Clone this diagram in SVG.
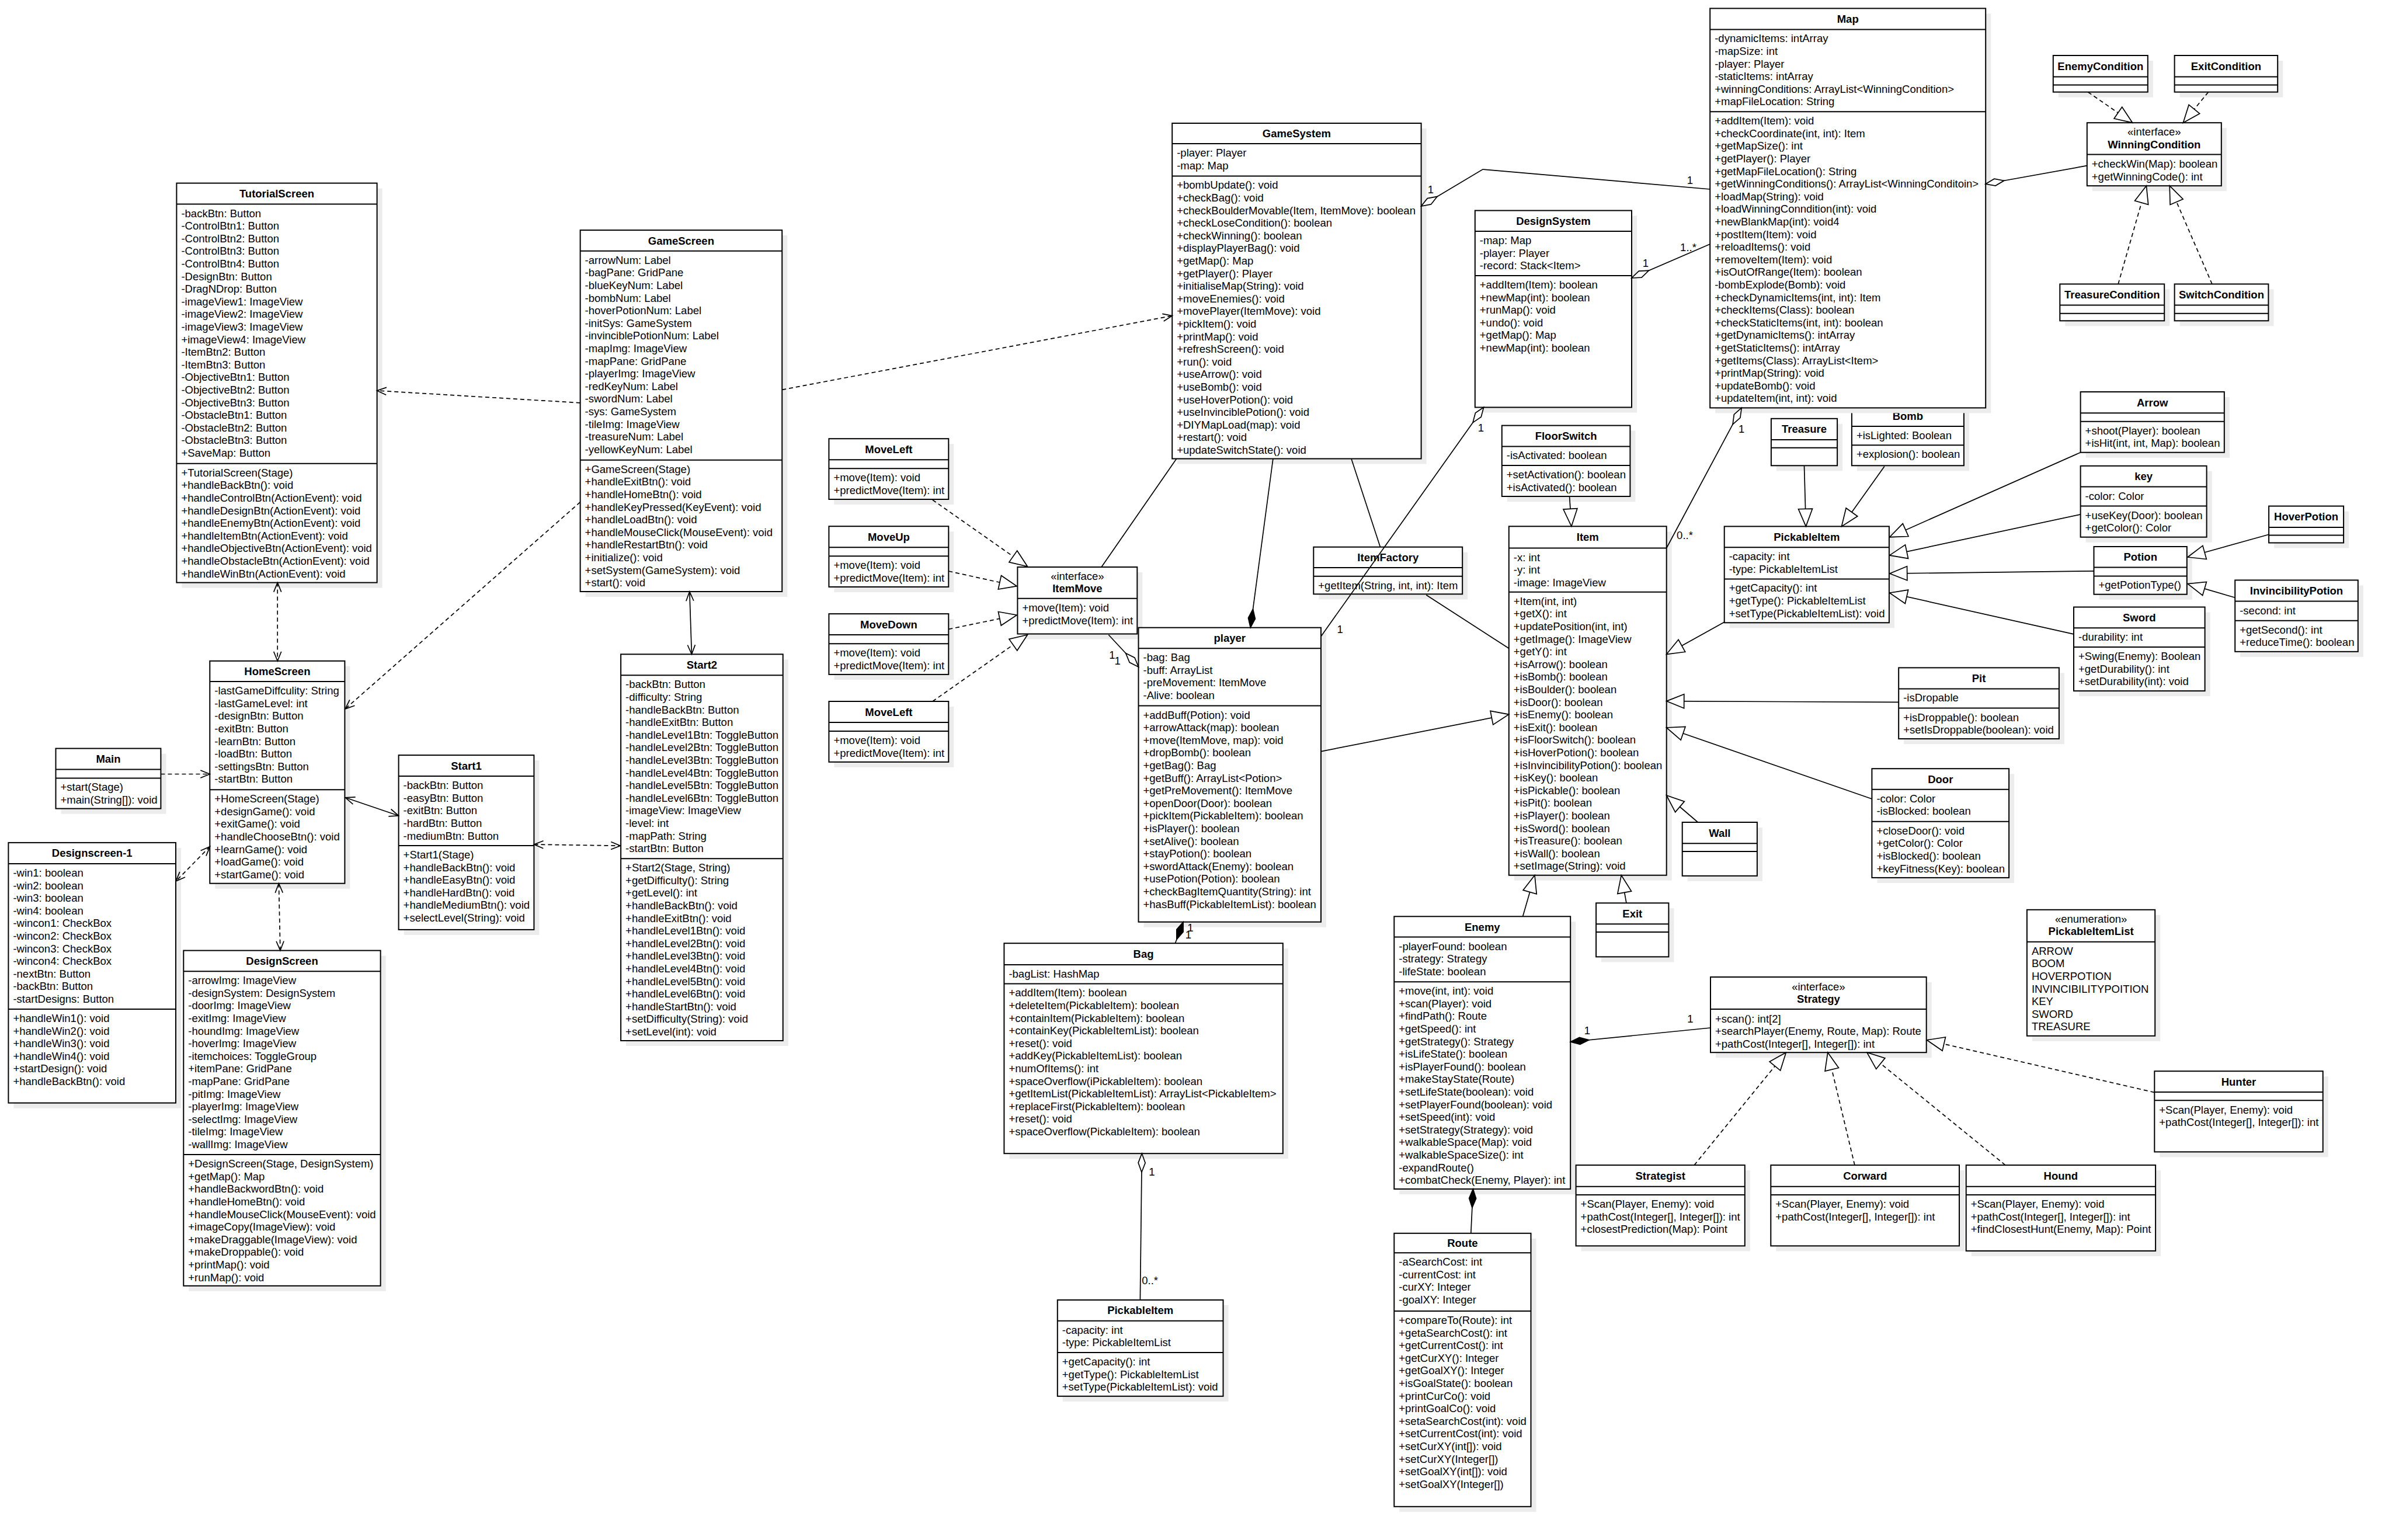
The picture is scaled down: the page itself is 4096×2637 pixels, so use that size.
<svg xmlns="http://www.w3.org/2000/svg" width="4096" height="2637" viewBox="0 0 4096 2637">
<defs>
<style>
.sh{fill:#ececec}
.bx{fill:#fff;stroke:#000;stroke-width:2}
.sp{stroke:#000;stroke-width:2;fill:none}
text{font-family:"Liberation Sans",Arial,Helvetica,sans-serif;font-size:18.5px;fill:#000}
.b{font-weight:bold}
.m{text-anchor:middle}
.c{fill:none;stroke:#000;stroke-width:1.7}
.d{stroke-dasharray:7,5}
.oa{marker-end:url(#oa)}
.oa2{marker-start:url(#oa);marker-end:url(#oa)}
.tr{marker-end:url(#tri)}
.dh{marker-start:url(#dh)}
.df{marker-start:url(#df)}
</style>
<marker id="oa" viewBox="0 0 20 16" refX="18" refY="8" markerWidth="20" markerHeight="16" markerUnits="userSpaceOnUse" orient="auto-start-reverse"><path d="M2,1.5 L18,8 L2,14.5" fill="none" stroke="#000" stroke-width="1.7"/></marker>
<marker id="tri" viewBox="0 0 34 28" refX="32" refY="14" markerWidth="34" markerHeight="28" markerUnits="userSpaceOnUse" orient="auto"><path d="M2,2 L32,14 L2,26 Z" fill="#fff" stroke="#000" stroke-width="1.7"/></marker>
<marker id="dh" viewBox="0 0 36 16" refX="2" refY="8" markerWidth="36" markerHeight="16" markerUnits="userSpaceOnUse" orient="auto"><path d="M2,8 L18,2 L34,8 L18,14 Z" fill="#fff" stroke="#000" stroke-width="1.7"/></marker>
<marker id="df" viewBox="0 0 36 16" refX="2" refY="8" markerWidth="36" markerHeight="16" markerUnits="userSpaceOnUse" orient="auto"><path d="M2,8 L18,2 L34,8 L18,14 Z" fill="#000" stroke="#000" stroke-width="1.7"/></marker>
</defs>
<rect x="0" y="0" width="4096" height="2637" fill="#fff"/>

<g id="TutorialScreen">
<rect class="sh" x="311.4" y="322.6" width="343.2" height="684"/>
<rect class="bx" x="302.4" y="313.6" width="343.2" height="684"/>
<path class="sp" d="M302.4,349.6h343.2M302.4,793.8h343.2"/>
<text class="b m" x="474" y="338.1">TutorialScreen</text>
<text x="310.4" y="371.6">-backBtn: Button<tspan x="310.4" dy="21.6">-ControlBtn1: Button</tspan><tspan x="310.4" dy="21.6">-ControlBtn2: Button</tspan><tspan x="310.4" dy="21.6">-ControlBtn3: Button</tspan><tspan x="310.4" dy="21.6">-ControlBtn4: Button</tspan><tspan x="310.4" dy="21.6">-DesignBtn: Button</tspan><tspan x="310.4" dy="21.6">-DragNDrop: Button</tspan><tspan x="310.4" dy="21.6">-imageView1: ImageView</tspan><tspan x="310.4" dy="21.6">-imageView2: ImageView</tspan><tspan x="310.4" dy="21.6">-imageView3: ImageView</tspan><tspan x="310.4" dy="21.6">+imageView4: ImageView</tspan><tspan x="310.4" dy="21.6">-ItemBtn2: Button</tspan><tspan x="310.4" dy="21.6">-ItemBtn3: Button</tspan><tspan x="310.4" dy="21.6">-ObjectiveBtn1: Button</tspan><tspan x="310.4" dy="21.6">-ObjectiveBtn2: Button</tspan><tspan x="310.4" dy="21.6">-ObjectiveBtn3: Button</tspan><tspan x="310.4" dy="21.6">-ObstacleBtn1: Button</tspan><tspan x="310.4" dy="21.6">-ObstacleBtn2: Button</tspan><tspan x="310.4" dy="21.6">-ObstacleBtn3: Button</tspan><tspan x="310.4" dy="21.6">+SaveMap: Button</tspan></text>
<text x="310.4" y="815.8">+TutorialScreen(Stage)<tspan x="310.4" dy="21.6">+handleBackBtn(): void</tspan><tspan x="310.4" dy="21.6">+handleControlBtn(ActionEvent): void</tspan><tspan x="310.4" dy="21.6">+handleDesignBtn(ActionEvent): void</tspan><tspan x="310.4" dy="21.6">+handleEnemyBtn(ActionEvent): void</tspan><tspan x="310.4" dy="21.6">+handleItemBtn(ActionEvent): void</tspan><tspan x="310.4" dy="21.6">+handleObjectiveBtn(ActionEvent): void</tspan><tspan x="310.4" dy="21.6">+handleObstacleBtn(ActionEvent): void</tspan><tspan x="310.4" dy="21.6">+handleWinBtn(ActionEvent): void</tspan></text>
</g>

<g id="HomeScreen">
<rect class="sh" x="368.3" y="1140.8" width="231.1" height="380.9"/>
<rect class="bx" x="359.3" y="1131.8" width="231.1" height="380.9"/>
<path class="sp" d="M359.3,1167.1h231.1M359.3,1352.2h231.1"/>
<text class="b m" x="474.9" y="1156">HomeScreen</text>
<text x="367.3" y="1189.1">-lastGameDiffculity: String<tspan x="367.3" dy="21.6">-lastGameLevel: int</tspan><tspan x="367.3" dy="21.6">-designBtn: Button</tspan><tspan x="367.3" dy="21.6">-exitBtn: Button</tspan><tspan x="367.3" dy="21.6">-learnBtn: Button</tspan><tspan x="367.3" dy="21.6">-loadBtn: Button</tspan><tspan x="367.3" dy="21.6">-settingsBtn: Button</tspan><tspan x="367.3" dy="21.6">-startBtn: Button</tspan></text>
<text x="367.3" y="1374.2">+HomeScreen(Stage)<tspan x="367.3" dy="21.6">+designGame(): void</tspan><tspan x="367.3" dy="21.6">+exitGame(): void</tspan><tspan x="367.3" dy="21.6">+handleChooseBtn(): void</tspan><tspan x="367.3" dy="21.6">+learnGame(): void</tspan><tspan x="367.3" dy="21.6">+loadGame(): void</tspan><tspan x="367.3" dy="21.6">+startGame(): void</tspan></text>
</g>

<g id="Main">
<rect class="sh" x="104.5" y="1290.6" width="179.9" height="103"/>
<rect class="bx" x="95.5" y="1281.6" width="179.9" height="103"/>
<path class="sp" d="M95.5,1317.6h179.9M95.5,1332.4h179.9"/>
<text class="b m" x="185.5" y="1306.1">Main</text>
<text x="103.5" y="1354.4">+start(Stage)<tspan x="103.5" dy="21.6">+main(String[]): void</tspan></text>
</g>

<g id="Designscreen-1">
<rect class="sh" x="23.4" y="1451.9" width="286.6" height="445.7"/>
<rect class="bx" x="14.4" y="1442.9" width="286.6" height="445.7"/>
<path class="sp" d="M14.4,1478.9h286.6M14.4,1728h286.6"/>
<text class="b m" x="157.7" y="1467.4">Designscreen-1</text>
<text x="22.4" y="1500.9">-win1: boolean<tspan x="22.4" dy="21.6">-win2: boolean</tspan><tspan x="22.4" dy="21.6">-win3: boolean</tspan><tspan x="22.4" dy="21.6">-win4: boolean</tspan><tspan x="22.4" dy="21.6">-wincon1: CheckBox</tspan><tspan x="22.4" dy="21.6">-wincon2: CheckBox</tspan><tspan x="22.4" dy="21.6">-wincon3: CheckBox</tspan><tspan x="22.4" dy="21.6">-wincon4: CheckBox</tspan><tspan x="22.4" dy="21.6">-nextBtn: Button</tspan><tspan x="22.4" dy="21.6">-backBtn: Button</tspan><tspan x="22.4" dy="21.6">-startDesigns: Button</tspan></text>
<text x="22.4" y="1750">+handleWin1(): void<tspan x="22.4" dy="21.6">+handleWin2(): void</tspan><tspan x="22.4" dy="21.6">+handleWin3(): void</tspan><tspan x="22.4" dy="21.6">+handleWin4(): void</tspan><tspan x="22.4" dy="21.6">+startDesign(): void</tspan><tspan x="22.4" dy="21.6">+handleBackBtn(): void</tspan></text>
</g>

<g id="DesignScreen">
<rect class="sh" x="323.3" y="1636.6" width="337.3" height="574.2"/>
<rect class="bx" x="314.3" y="1627.6" width="337.3" height="574.2"/>
<path class="sp" d="M314.3,1663.2h337.3M314.3,1977.1h337.3"/>
<text class="b m" x="483" y="1651.9">DesignScreen</text>
<text x="322.3" y="1685.2">-arrowImg: ImageView<tspan x="322.3" dy="21.6">-designSystem: DesignSystem</tspan><tspan x="322.3" dy="21.6">-doorImg: ImageView</tspan><tspan x="322.3" dy="21.6">-exitImg: ImageView</tspan><tspan x="322.3" dy="21.6">-houndImg: ImageView</tspan><tspan x="322.3" dy="21.6">-hoverImg: ImageView</tspan><tspan x="322.3" dy="21.6">-itemchoices: ToggleGroup</tspan><tspan x="322.3" dy="21.6">+itemPane: GridPane</tspan><tspan x="322.3" dy="21.6">-mapPane: GridPane</tspan><tspan x="322.3" dy="21.6">-pitImg: ImageView</tspan><tspan x="322.3" dy="21.6">-playerImg: ImageView</tspan><tspan x="322.3" dy="21.6">-selectImg: ImageView</tspan><tspan x="322.3" dy="21.6">-tileImg: ImageView</tspan><tspan x="322.3" dy="21.6">-wallImg: ImageView</tspan></text>
<text x="322.3" y="1999.1">+DesignScreen(Stage, DesignSystem)<tspan x="322.3" dy="21.6">+getMap(): Map</tspan><tspan x="322.3" dy="21.6">+handleBackwordBtn(): void</tspan><tspan x="322.3" dy="21.6">+handleHomeBtn(): void</tspan><tspan x="322.3" dy="21.6">+handleMouseClick(MouseEvent): void</tspan><tspan x="322.3" dy="21.6">+imageCopy(ImageView): void</tspan><tspan x="322.3" dy="21.6">+makeDraggable(ImageView): void</tspan><tspan x="322.3" dy="21.6">+makeDroppable(): void</tspan><tspan x="322.3" dy="21.6">+printMap(): void</tspan><tspan x="322.3" dy="21.6">+runMap(): void</tspan></text>
</g>

<g id="GameScreen">
<rect class="sh" x="1002.6" y="403.1" width="345.6" height="618.9"/>
<rect class="bx" x="993.6" y="394.1" width="345.6" height="618.9"/>
<path class="sp" d="M993.6,429.8h345.6M993.6,787.7h345.6"/>
<text class="b m" x="1166.4" y="418.5">GameScreen</text>
<text x="1001.6" y="451.8">-arrowNum: Label<tspan x="1001.6" dy="21.6">-bagPane: GridPane</tspan><tspan x="1001.6" dy="21.6">-blueKeyNum: Label</tspan><tspan x="1001.6" dy="21.6">-bombNum: Label</tspan><tspan x="1001.6" dy="21.6">-hoverPotionNum: Label</tspan><tspan x="1001.6" dy="21.6">-initSys: GameSystem</tspan><tspan x="1001.6" dy="21.6">-invinciblePotionNum: Label</tspan><tspan x="1001.6" dy="21.6">-mapImg: ImageView</tspan><tspan x="1001.6" dy="21.6">-mapPane: GridPane</tspan><tspan x="1001.6" dy="21.6">-playerImg: ImageView</tspan><tspan x="1001.6" dy="21.6">-redKeyNum: Label</tspan><tspan x="1001.6" dy="21.6">-swordNum: Label</tspan><tspan x="1001.6" dy="21.6">-sys: GameSystem</tspan><tspan x="1001.6" dy="21.6">-tileImg: ImageView</tspan><tspan x="1001.6" dy="21.6">-treasureNum: Label</tspan><tspan x="1001.6" dy="21.6">-yellowKeyNum: Label</tspan></text>
<text x="1001.6" y="809.7">+GameScreen(Stage)<tspan x="1001.6" dy="21.6">+handleExitBtn(): void</tspan><tspan x="1001.6" dy="21.6">+handleHomeBtn(): void</tspan><tspan x="1001.6" dy="21.6">+handleKeyPressed(KeyEvent): void</tspan><tspan x="1001.6" dy="21.6">+handleLoadBtn(): void</tspan><tspan x="1001.6" dy="21.6">+handleMouseClick(MouseEvent): void</tspan><tspan x="1001.6" dy="21.6">+handleRestartBtn(): void</tspan><tspan x="1001.6" dy="21.6">+initialize(): void</tspan><tspan x="1001.6" dy="21.6">+setSystem(GameSystem): void</tspan><tspan x="1001.6" dy="21.6">+start(): void</tspan></text>
</g>

<g id="Start1">
<rect class="sh" x="691.6" y="1302.1" width="231.8" height="298.8"/>
<rect class="bx" x="682.6" y="1293.1" width="231.8" height="298.8"/>
<path class="sp" d="M682.6,1329.1h231.8M682.6,1447.9h231.8"/>
<text class="b m" x="798.5" y="1317.6">Start1</text>
<text x="690.6" y="1351.1">-backBtn: Button<tspan x="690.6" dy="21.6">-easyBtn: Button</tspan><tspan x="690.6" dy="21.6">-exitBtn: Button</tspan><tspan x="690.6" dy="21.6">-hardBtn: Button</tspan><tspan x="690.6" dy="21.6">-mediumBtn: Button</tspan></text>
<text x="690.6" y="1469.9">+Start1(Stage)<tspan x="690.6" dy="21.6">+handleBackBtn(): void</tspan><tspan x="690.6" dy="21.6">+handleEasyBtn(): void</tspan><tspan x="690.6" dy="21.6">+handleHardBtn(): void</tspan><tspan x="690.6" dy="21.6">+handleMediumBtn(): void</tspan><tspan x="690.6" dy="21.6">+selectLevel(String): void</tspan></text>
</g>

<g id="Start2">
<rect class="sh" x="1072.1" y="1129.3" width="277.6" height="661.7"/>
<rect class="bx" x="1063.1" y="1120.3" width="277.6" height="661.7"/>
<path class="sp" d="M1063.1,1156.3h277.6M1063.1,1470.2h277.6"/>
<text class="b m" x="1201.9" y="1144.8">Start2</text>
<text x="1071.1" y="1178.3">-backBtn: Button<tspan x="1071.1" dy="21.6">-difficulty: String</tspan><tspan x="1071.1" dy="21.6">-handleBackBtn: Button</tspan><tspan x="1071.1" dy="21.6">-handleExitBtn: Button</tspan><tspan x="1071.1" dy="21.6">-handleLevel1Btn: ToggleButton</tspan><tspan x="1071.1" dy="21.6">-handleLevel2Btn: ToggleButton</tspan><tspan x="1071.1" dy="21.6">-handleLevel3Btn: ToggleButton</tspan><tspan x="1071.1" dy="21.6">-handleLevel4Btn: ToggleButton</tspan><tspan x="1071.1" dy="21.6">-handleLevel5Btn: ToggleButton</tspan><tspan x="1071.1" dy="21.6">-handleLevel6Btn: ToggleButton</tspan><tspan x="1071.1" dy="21.6">-imageView: ImageView</tspan><tspan x="1071.1" dy="21.6">-level: int</tspan><tspan x="1071.1" dy="21.6">-mapPath: String</tspan><tspan x="1071.1" dy="21.6">-startBtn: Button</tspan></text>
<text x="1071.1" y="1492.2">+Start2(Stage, String)<tspan x="1071.1" dy="21.6">+getDifficulty(): String</tspan><tspan x="1071.1" dy="21.6">+getLevel(): int</tspan><tspan x="1071.1" dy="21.6">+handleBackBtn(): void</tspan><tspan x="1071.1" dy="21.6">+handleExitBtn(): void</tspan><tspan x="1071.1" dy="21.6">+handleLevel1Btn(): void</tspan><tspan x="1071.1" dy="21.6">+handleLevel2Btn(): void</tspan><tspan x="1071.1" dy="21.6">+handleLevel3Btn(): void</tspan><tspan x="1071.1" dy="21.6">+handleLevel4Btn(): void</tspan><tspan x="1071.1" dy="21.6">+handleLevel5Btn(): void</tspan><tspan x="1071.1" dy="21.6">+handleLevel6Btn(): void</tspan><tspan x="1071.1" dy="21.6">+handleStartBtn(): void</tspan><tspan x="1071.1" dy="21.6">+setDifficulty(String): void</tspan><tspan x="1071.1" dy="21.6">+setLevel(int): void</tspan></text>
</g>

<g id="GameSystem">
<rect class="sh" x="2016.2" y="220" width="426.4" height="574.5"/>
<rect class="bx" x="2007.2" y="211" width="426.4" height="574.5"/>
<path class="sp" d="M2007.2,246h426.4M2007.2,301.4h426.4"/>
<text class="b m" x="2220.4" y="235">GameSystem</text>
<text x="2015.2" y="268">-player: Player<tspan x="2015.2" dy="21.6">-map: Map</tspan></text>
<text x="2015.2" y="323.4">+bombUpdate(): void<tspan x="2015.2" dy="21.6">+checkBag(): void</tspan><tspan x="2015.2" dy="21.6">+checkBoulderMovable(Item, ItemMove): boolean</tspan><tspan x="2015.2" dy="21.6">+checkLoseCondition(): boolean</tspan><tspan x="2015.2" dy="21.6">+checkWinning(): boolean</tspan><tspan x="2015.2" dy="21.6">+displayPlayerBag(): void</tspan><tspan x="2015.2" dy="21.6">+getMap(): Map</tspan><tspan x="2015.2" dy="21.6">+getPlayer(): Player</tspan><tspan x="2015.2" dy="21.6">+initialiseMap(String): void</tspan><tspan x="2015.2" dy="21.6">+moveEnemies(): void</tspan><tspan x="2015.2" dy="21.6">+movePlayer(ItemMove): void</tspan><tspan x="2015.2" dy="21.6">+pickItem(): void</tspan><tspan x="2015.2" dy="21.6">+printMap(): void</tspan><tspan x="2015.2" dy="21.6">+refreshScreen(): void</tspan><tspan x="2015.2" dy="21.6">+run(): void</tspan><tspan x="2015.2" dy="21.6">+useArrow(): void</tspan><tspan x="2015.2" dy="21.6">+useBomb(): void</tspan><tspan x="2015.2" dy="21.6">+useHoverPotion(): void</tspan><tspan x="2015.2" dy="21.6">+useInvinciblePotion(): void</tspan><tspan x="2015.2" dy="21.6">+DIYMapLoad(map): void</tspan><tspan x="2015.2" dy="21.6">+restart(): void</tspan><tspan x="2015.2" dy="21.6">+updateSwitchState(): void</tspan></text>
</g>

<g id="Bomb">
<rect class="sh" x="3179.9" y="703.1" width="192" height="103.2"/>
<rect class="bx" x="3170.9" y="694.1" width="192" height="103.2"/>
<path class="sp" d="M3170.9,729.9h192M3170.9,762.3h192"/>
<text class="b m" x="3266.9" y="718.5">Bomb</text>
<text x="3178.9" y="751.9">+isLighted: Boolean</text>
<text x="3178.9" y="784.3">+explosion(): boolean</text>
</g>

<g id="Map">
<rect class="sh" x="2937.2" y="23.4" width="472" height="684"/>
<rect class="bx" x="2928.2" y="14.4" width="472" height="684"/>
<path class="sp" d="M2928.2,50.4h472M2928.2,191.2h472"/>
<text class="b m" x="3164.2" y="38.9">Map</text>
<text x="2936.2" y="72.4">-dynamicItems: intArray<tspan x="2936.2" dy="21.6">-mapSize: int</tspan><tspan x="2936.2" dy="21.6">-player: Player</tspan><tspan x="2936.2" dy="21.6">-staticItems: intArray</tspan><tspan x="2936.2" dy="21.6">+winningConditions: ArrayList&lt;WinningCondition&gt;</tspan><tspan x="2936.2" dy="21.6">+mapFileLocation: String</tspan></text>
<text x="2936.2" y="213.2">+addItem(Item): void<tspan x="2936.2" dy="21.6">+checkCoordinate(int, int): Item</tspan><tspan x="2936.2" dy="21.6">+getMapSize(): int</tspan><tspan x="2936.2" dy="21.6">+getPlayer(): Player</tspan><tspan x="2936.2" dy="21.6">+getMapFileLocation(): String</tspan><tspan x="2936.2" dy="21.6">+getWinningConditions(): ArrayList&lt;WinningConditoin&gt;</tspan><tspan x="2936.2" dy="21.6">+loadMap(String): void</tspan><tspan x="2936.2" dy="21.6">+loadWinningConndition(int): void</tspan><tspan x="2936.2" dy="21.6">+newBlankMap(int): void4</tspan><tspan x="2936.2" dy="21.6">+postItem(Item): void</tspan><tspan x="2936.2" dy="21.6">+reloadItems(): void</tspan><tspan x="2936.2" dy="21.6">+removeItem(Item): void</tspan><tspan x="2936.2" dy="21.6">+isOutOfRange(Item): boolean</tspan><tspan x="2936.2" dy="21.6">-bombExplode(Bomb): void</tspan><tspan x="2936.2" dy="21.6">+checkDynamicItems(int, int): Item</tspan><tspan x="2936.2" dy="21.6">+checkItems(Class): boolean</tspan><tspan x="2936.2" dy="21.6">+checkStaticItems(int, int): boolean</tspan><tspan x="2936.2" dy="21.6">+getDynamicItems(): intArray</tspan><tspan x="2936.2" dy="21.6">+getStaticItems(): intArray</tspan><tspan x="2936.2" dy="21.6">+getItems(Class): ArrayList&lt;Item&gt;</tspan><tspan x="2936.2" dy="21.6">+printMap(String): void</tspan><tspan x="2936.2" dy="21.6">+updateBomb(): void</tspan><tspan x="2936.2" dy="21.6">+updateItem(int, int): void</tspan></text>
</g>

<g id="EnemyCondition">
<rect class="sh" x="3524.8" y="104" width="162" height="62.6"/>
<rect class="bx" x="3515.8" y="95" width="162" height="62.6"/>
<path class="sp" d="M3515.8,131.4h162M3515.8,145.4h162"/>
<text class="b m" x="3596.8" y="119.7">EnemyCondition</text>
</g>

<g id="ExitCondition">
<rect class="sh" x="3732.6" y="104" width="176.6" height="62.6"/>
<rect class="bx" x="3723.6" y="95" width="176.6" height="62.6"/>
<path class="sp" d="M3723.6,131.4h176.6M3723.6,145.4h176.6"/>
<text class="b m" x="3811.9" y="119.7">ExitCondition</text>
</g>

<g id="WinningCondition">
<rect class="sh" x="3582.8" y="219.2" width="230" height="108"/>
<rect class="bx" x="3573.8" y="210.2" width="230" height="108"/>
<path class="sp" d="M3573.8,264.6h230"/>
<text class="m" x="3688.8" y="231.6">«interface»</text>
<text class="b m" x="3688.8" y="253.5">WinningCondition</text>
<text x="3581.8" y="287">+checkWin(Map): boolean<tspan x="3581.8" dy="21.6">+getWinningCode(): int</tspan></text>
</g>

<g id="TreasureCondition">
<rect class="sh" x="3536.3" y="495.4" width="178.9" height="62.9"/>
<rect class="bx" x="3527.3" y="486.4" width="178.9" height="62.9"/>
<path class="sp" d="M3527.3,522.4h178.9M3527.3,536.8h178.9"/>
<text class="b m" x="3616.8" y="510.9">TreasureCondition</text>
</g>

<g id="SwitchCondition">
<rect class="sh" x="3732.6" y="495.4" width="160.8" height="62.9"/>
<rect class="bx" x="3723.6" y="486.4" width="160.8" height="62.9"/>
<path class="sp" d="M3723.6,522.4h160.8M3723.6,536.8h160.8"/>
<text class="b m" x="3804" y="510.9">SwitchCondition</text>
</g>

<g id="DesignSystem">
<rect class="sh" x="2534.8" y="369.5" width="268.2" height="337"/>
<rect class="bx" x="2525.8" y="360.5" width="268.2" height="337"/>
<path class="sp" d="M2525.8,396h268.2M2525.8,472h268.2"/>
<text class="b m" x="2659.9" y="384.8">DesignSystem</text>
<text x="2533.8" y="418">-map: Map<tspan x="2533.8" dy="21.6">-player: Player</tspan><tspan x="2533.8" dy="21.6">-record: Stack&lt;Item&gt;</tspan></text>
<text x="2533.8" y="494">+addItem(Item): boolean<tspan x="2533.8" dy="21.6">+newMap(int): boolean</tspan><tspan x="2533.8" dy="21.6">+runMap(): void</tspan><tspan x="2533.8" dy="21.6">+undo(): void</tspan><tspan x="2533.8" dy="21.6">+getMap(): Map</tspan><tspan x="2533.8" dy="21.6">+newMap(int): boolean</tspan></text>
</g>

<g id="FloorSwitch">
<rect class="sh" x="2580.8" y="737.6" width="219.6" height="121.4"/>
<rect class="bx" x="2571.8" y="728.6" width="219.6" height="121.4"/>
<path class="sp" d="M2571.8,764.4h219.6M2571.8,797h219.6"/>
<text class="b m" x="2681.6" y="753">FloorSwitch</text>
<text x="2579.8" y="786.4">-isActivated: boolean</text>
<text x="2579.8" y="819">+setActivation(): boolean<tspan x="2579.8" dy="21.6">+isActivated(): boolean</tspan></text>
</g>

<g id="Item">
<rect class="sh" x="2592.8" y="910.3" width="269.9" height="597.4"/>
<rect class="bx" x="2583.8" y="901.3" width="269.9" height="597.4"/>
<path class="sp" d="M2583.8,938.5h269.9M2583.8,1013.8h269.9"/>
<text class="b m" x="2718.8" y="926.4">Item</text>
<text x="2591.8" y="960.5">-x: int<tspan x="2591.8" dy="21.6">-y: int</tspan><tspan x="2591.8" dy="21.6">-image: ImageView</tspan></text>
<text x="2591.8" y="1035.8">+Item(int, int)<tspan x="2591.8" dy="21.6">+getX(): int</tspan><tspan x="2591.8" dy="21.6">+updatePosition(int, int)</tspan><tspan x="2591.8" dy="21.6">+getImage(): ImageView</tspan><tspan x="2591.8" dy="21.6">+getY(): int</tspan><tspan x="2591.8" dy="21.6">+isArrow(): boolean</tspan><tspan x="2591.8" dy="21.6">+isBomb(): boolean</tspan><tspan x="2591.8" dy="21.6">+isBoulder(): boolean</tspan><tspan x="2591.8" dy="21.6">+isDoor(): boolean</tspan><tspan x="2591.8" dy="21.6">+isEnemy(): boolean</tspan><tspan x="2591.8" dy="21.6">+isExit(): boolean</tspan><tspan x="2591.8" dy="21.6">+isFloorSwitch(): boolean</tspan><tspan x="2591.8" dy="21.6">+isHoverPotion(): boolean</tspan><tspan x="2591.8" dy="21.6">+isInvincibilityPotion(): boolean</tspan><tspan x="2591.8" dy="21.6">+isKey(): boolean</tspan><tspan x="2591.8" dy="21.6">+isPickable(): boolean</tspan><tspan x="2591.8" dy="21.6">+isPit(): boolean</tspan><tspan x="2591.8" dy="21.6">+isPlayer(): boolean</tspan><tspan x="2591.8" dy="21.6">+isSword(): boolean</tspan><tspan x="2591.8" dy="21.6">+isTreasure(): boolean</tspan><tspan x="2591.8" dy="21.6">+isWall(): boolean</tspan><tspan x="2591.8" dy="21.6">+setImage(String): void</tspan></text>
</g>

<g id="ItemFactory">
<rect class="sh" x="2258.3" y="945.7" width="254.9" height="80.6"/>
<rect class="bx" x="2249.3" y="936.7" width="254.9" height="80.6"/>
<path class="sp" d="M2249.3,972h254.9M2249.3,986.8h254.9"/>
<text class="b m" x="2376.8" y="960.9">ItemFactory</text>
<text x="2257.3" y="1008.8">+getItem(String, int, int): Item</text>
</g>

<g id="MoveLeft">
<rect class="sh" x="1428.4" y="760.2" width="204.9" height="103.8"/>
<rect class="bx" x="1419.4" y="751.2" width="204.9" height="103.8"/>
<path class="sp" d="M1419.4,787.2h204.9M1419.4,802.3h204.9"/>
<text class="b m" x="1521.9" y="775.7">MoveLeft</text>
<text x="1427.4" y="824.3">+move(Item): void<tspan x="1427.4" dy="21.6">+predictMove(Item): int</tspan></text>
</g>

<g id="MoveUp">
<rect class="sh" x="1428.4" y="910.2" width="204.9" height="103.8"/>
<rect class="bx" x="1419.4" y="901.2" width="204.9" height="103.8"/>
<path class="sp" d="M1419.4,937.2h204.9M1419.4,952.3h204.9"/>
<text class="b m" x="1521.9" y="925.7">MoveUp</text>
<text x="1427.4" y="974.3">+move(Item): void<tspan x="1427.4" dy="21.6">+predictMove(Item): int</tspan></text>
</g>

<g id="MoveDown">
<rect class="sh" x="1428.4" y="1060.1" width="204.9" height="103.8"/>
<rect class="bx" x="1419.4" y="1051.1" width="204.9" height="103.8"/>
<path class="sp" d="M1419.4,1087.1h204.9M1419.4,1102.2h204.9"/>
<text class="b m" x="1521.9" y="1075.6">MoveDown</text>
<text x="1427.4" y="1124.2">+move(Item): void<tspan x="1427.4" dy="21.6">+predictMove(Item): int</tspan></text>
</g>

<g id="MoveLeft-2">
<rect class="sh" x="1428.4" y="1210" width="204.9" height="103.8"/>
<rect class="bx" x="1419.4" y="1201" width="204.9" height="103.8"/>
<path class="sp" d="M1419.4,1237h204.9M1419.4,1252.1h204.9"/>
<text class="b m" x="1521.9" y="1225.5">MoveLeft</text>
<text x="1427.4" y="1274.1">+move(Item): void<tspan x="1427.4" dy="21.6">+predictMove(Item): int</tspan></text>
</g>

<g id="ItemMove">
<rect class="sh" x="1751.4" y="980" width="204.9" height="114.5"/>
<rect class="bx" x="1742.4" y="971" width="204.9" height="114.5"/>
<path class="sp" d="M1742.4,1024.8h204.9"/>
<text class="m" x="1844.9" y="992.7">«interface»</text>
<text class="b m" x="1844.9" y="1014.2">ItemMove</text>
<text x="1750.4" y="1046.9">+move(Item): void<tspan x="1750.4" dy="21.6">+predictMove(Item): int</tspan></text>
</g>

<g id="player">
<rect class="sh" x="1958.5" y="1083.7" width="312.5" height="504"/>
<rect class="bx" x="1949.5" y="1074.7" width="312.5" height="504"/>
<path class="sp" d="M1949.5,1110.2h312.5M1949.5,1208.5h312.5"/>
<text class="b m" x="2105.8" y="1099">player</text>
<text x="1957.5" y="1132.2">-bag: Bag<tspan x="1957.5" dy="21.6">-buff: ArrayList</tspan><tspan x="1957.5" dy="21.6">-preMovement: ItemMove</tspan><tspan x="1957.5" dy="21.6">-Alive: boolean</tspan></text>
<text x="1957.5" y="1230.5">+addBuff(Potion): void<tspan x="1957.5" dy="21.6">+arrowAttack(map): boolean</tspan><tspan x="1957.5" dy="21.6">+move(ItemMove, map): void</tspan><tspan x="1957.5" dy="21.6">+dropBomb(): boolean</tspan><tspan x="1957.5" dy="21.6">+getBag(): Bag</tspan><tspan x="1957.5" dy="21.6">+getBuff(): ArrayList&lt;Potion&gt;</tspan><tspan x="1957.5" dy="21.6">+getPreMovement(): ItemMove</tspan><tspan x="1957.5" dy="21.6">+openDoor(Door): boolean</tspan><tspan x="1957.5" dy="21.6">+pickItem(PickableItem): boolean</tspan><tspan x="1957.5" dy="21.6">+isPlayer(): boolean</tspan><tspan x="1957.5" dy="21.6">+setAlive(): boolean</tspan><tspan x="1957.5" dy="21.6">+stayPotion(): boolean</tspan><tspan x="1957.5" dy="21.6">+swordAttack(Enemy): boolean</tspan><tspan x="1957.5" dy="21.6">+usePotion(Potion): boolean</tspan><tspan x="1957.5" dy="21.6">+checkBagItemQuantity(String): int</tspan><tspan x="1957.5" dy="21.6">+hasBuff(PickableItemList): boolean</tspan></text>
</g>

<g id="Bag">
<rect class="sh" x="1728.4" y="1624.2" width="477.4" height="360"/>
<rect class="bx" x="1719.4" y="1615.2" width="477.4" height="360"/>
<path class="sp" d="M1719.4,1652h477.4M1719.4,1684.6h477.4"/>
<text class="b m" x="1958.1" y="1640.1">Bag</text>
<text x="1727.4" y="1673.5">-bagList: HashMap</text>
<text x="1727.4" y="1706.4">+addItem(Item): boolean<tspan x="1727.4" dy="21.6">+deleteItem(PickableItem): boolean</tspan><tspan x="1727.4" dy="21.6">+containItem(PickableItem): boolean</tspan><tspan x="1727.4" dy="21.6">+containKey(PickableItemList): boolean</tspan><tspan x="1727.4" dy="21.6">+reset(): void</tspan><tspan x="1727.4" dy="21.6">+addKey(PickableItemList): boolean</tspan><tspan x="1727.4" dy="21.6">+numOfItems(): int</tspan><tspan x="1727.4" dy="21.6">+spaceOverflow(iPickableItem): boolean</tspan><tspan x="1727.4" dy="21.6">+getItemList(PickableItemList): ArrayList&lt;PickableItem&gt;</tspan><tspan x="1727.4" dy="21.6">+replaceFirst(PickableItem): boolean</tspan><tspan x="1727.4" dy="21.6">+reset(): void</tspan><tspan x="1727.4" dy="21.6">+spaceOverflow(PickableItem): boolean</tspan></text>
</g>

<g id="PickableItem-bag">
<rect class="sh" x="1819.8" y="2235" width="283.7" height="164.8"/>
<rect class="bx" x="1810.8" y="2226" width="283.7" height="164.8"/>
<path class="sp" d="M1810.8,2261.7h283.7M1810.8,2316h283.7"/>
<text class="b m" x="1952.7" y="2250.4">PickableItem</text>
<text x="1818.8" y="2283.7">-capacity: int<tspan x="1818.8" dy="21.6">-type: PickableItemList</tspan></text>
<text x="1818.8" y="2338">+getCapacity(): int<tspan x="1818.8" dy="21.6">+getType(): PickableItemList</tspan><tspan x="1818.8" dy="21.6">+setType(PickableItemList): void</tspan></text>
</g>

<g id="Enemy">
<rect class="sh" x="2396.3" y="1578.3" width="301.9" height="466.7"/>
<rect class="bx" x="2387.3" y="1569.3" width="301.9" height="466.7"/>
<path class="sp" d="M2387.3,1604.6h301.9M2387.3,1681.2h301.9"/>
<text class="b m" x="2538.3" y="1593.5">Enemy</text>
<text x="2395.3" y="1626.6">-playerFound: boolean<tspan x="2395.3" dy="21.6">-strategy: Strategy</tspan><tspan x="2395.3" dy="21.6">-lifeState: boolean</tspan></text>
<text x="2395.3" y="1703.2">+move(int, int): void<tspan x="2395.3" dy="21.6">+scan(Player): void</tspan><tspan x="2395.3" dy="21.6">+findPath(): Route</tspan><tspan x="2395.3" dy="21.6">+getSpeed(): int</tspan><tspan x="2395.3" dy="21.6">+getStrategy(): Strategy</tspan><tspan x="2395.3" dy="21.6">+isLifeState(): boolean</tspan><tspan x="2395.3" dy="21.6">+isPlayerFound(): boolean</tspan><tspan x="2395.3" dy="21.6">+makeStayState(Route)</tspan><tspan x="2395.3" dy="21.6">+setLifeState(boolean): void</tspan><tspan x="2395.3" dy="21.6">+setPlayerFound(boolean): void</tspan><tspan x="2395.3" dy="21.6">+setSpeed(int): void</tspan><tspan x="2395.3" dy="21.6">+setStrategy(Strategy): void</tspan><tspan x="2395.3" dy="21.6">+walkableSpace(Map): void</tspan><tspan x="2395.3" dy="21.6">+walkableSpaceSize(): int</tspan><tspan x="2395.3" dy="21.6">-expandRoute()</tspan><tspan x="2395.3" dy="21.6">+combatCheck(Enemy, Player): int</tspan></text>
</g>

<g id="Route">
<rect class="sh" x="2396.3" y="2120.8" width="234.2" height="468"/>
<rect class="bx" x="2387.3" y="2111.8" width="234.2" height="468"/>
<path class="sp" d="M2387.3,2145.2h234.2M2387.3,2245h234.2"/>
<text class="b m" x="2504.4" y="2135">Route</text>
<text x="2395.3" y="2167.2">-aSearchCost: int<tspan x="2395.3" dy="21.6">-currentCost: int</tspan><tspan x="2395.3" dy="21.6">-curXY: Integer</tspan><tspan x="2395.3" dy="21.6">-goalXY: Integer</tspan></text>
<text x="2395.3" y="2267">+compareTo(Route): int<tspan x="2395.3" dy="21.6">+getaSearchCost(): int</tspan><tspan x="2395.3" dy="21.6">+getCurrentCost(): int</tspan><tspan x="2395.3" dy="21.6">+getCurXY(): Integer</tspan><tspan x="2395.3" dy="21.6">+getGoalXY(): Integer</tspan><tspan x="2395.3" dy="21.6">+isGoalState(): boolean</tspan><tspan x="2395.3" dy="21.6">+printCurCo(): void</tspan><tspan x="2395.3" dy="21.6">+printGoalCo(): void</tspan><tspan x="2395.3" dy="21.6">+setaSearchCost(int): void</tspan><tspan x="2395.3" dy="21.6">+setCurrentCost(int): void</tspan><tspan x="2395.3" dy="21.6">+setCurXY(int[]): void</tspan><tspan x="2395.3" dy="21.6">+setCurXY(Integer[])</tspan><tspan x="2395.3" dy="21.6">+setGoalXY(int[]): void</tspan><tspan x="2395.3" dy="21.6">+setGoalXY(Integer[])</tspan></text>
</g>

<g id="Exit">
<rect class="sh" x="2742.1" y="1555.3" width="124.3" height="92.1"/>
<rect class="bx" x="2733.1" y="1546.3" width="124.3" height="92.1"/>
<path class="sp" d="M2733.1,1582.3h124.3M2733.1,1596.1h124.3"/>
<text class="b m" x="2795.3" y="1570.8">Exit</text>
</g>

<g id="Wall">
<rect class="sh" x="2889.7" y="1417" width="128.2" height="91.8"/>
<rect class="bx" x="2880.7" y="1408" width="128.2" height="91.8"/>
<path class="sp" d="M2880.7,1444.3h128.2M2880.7,1458h128.2"/>
<text class="b m" x="2944.8" y="1432.7">Wall</text>
</g>

<g id="Strategy">
<rect class="sh" x="2938" y="1682" width="369.7" height="129.2"/>
<rect class="bx" x="2929" y="1673" width="369.7" height="129.2"/>
<path class="sp" d="M2929,1728h369.7"/>
<text class="m" x="3113.9" y="1695.6">«interface»</text>
<text class="b m" x="3113.9" y="1717.2">Strategy</text>
<text x="2937" y="1750.5">+scan(): int[2]<tspan x="2937" dy="21.6">+searchPlayer(Enemy, Route, Map): Route</tspan><tspan x="2937" dy="21.6">+pathCost(Integer[], Integer[]): int</tspan></text>
</g>

<g id="PickableItemList">
<rect class="sh" x="3479.9" y="1566.8" width="219.3" height="216"/>
<rect class="bx" x="3470.9" y="1557.8" width="219.3" height="216"/>
<path class="sp" d="M3470.9,1612.7h219.3"/>
<text class="m" x="3580.6" y="1580.2">«enumeration»</text>
<text class="b m" x="3580.6" y="1601.3">PickableItemList</text>
<text x="3478.9" y="1634.7">ARROW<tspan x="3478.9" dy="21.6">BOOM</tspan><tspan x="3478.9" dy="21.6">HOVERPOTION</tspan><tspan x="3478.9" dy="21.6">INVINCIBILITYPOITION</tspan><tspan x="3478.9" dy="21.6">KEY</tspan><tspan x="3478.9" dy="21.6">SWORD</tspan><tspan x="3478.9" dy="21.6">TREASURE</tspan></text>
</g>

<g id="Hunter">
<rect class="sh" x="3698.3" y="1843.2" width="288.4" height="138.2"/>
<rect class="bx" x="3689.3" y="1834.2" width="288.4" height="138.2"/>
<path class="sp" d="M3689.3,1870.1h288.4M3689.3,1884.2h288.4"/>
<text class="b m" x="3833.5" y="1858.7">Hunter</text>
<text x="3697.3" y="1906.6">+Scan(Player, Enemy): void<tspan x="3697.3" dy="21.6">+pathCost(Integer[], Integer[]): int</tspan></text>
</g>

<g id="Strategist">
<rect class="sh" x="2707.6" y="2004.1" width="289.2" height="138.3"/>
<rect class="bx" x="2698.6" y="1995.1" width="289.2" height="138.3"/>
<path class="sp" d="M2698.6,2031.8h289.2M2698.6,2045.9h289.2"/>
<text class="b m" x="2843.2" y="2020">Strategist</text>
<text x="2706.6" y="2068">+Scan(Player, Enemy): void<tspan x="2706.6" dy="21.6">+pathCost(Integer[], Integer[]): int</tspan><tspan x="2706.6" dy="21.6">+closestPrediction(Map): Point</tspan></text>
</g>

<g id="Corward">
<rect class="sh" x="3041.3" y="2004.1" width="322.7" height="138.3"/>
<rect class="bx" x="3032.3" y="1995.1" width="322.7" height="138.3"/>
<path class="sp" d="M3032.3,2031.8h322.7M3032.3,2045.9h322.7"/>
<text class="b m" x="3193.7" y="2020">Corward</text>
<text x="3040.3" y="2068">+Scan(Player, Enemy): void<tspan x="3040.3" dy="21.6">+pathCost(Integer[], Integer[]): int</tspan></text>
</g>

<g id="Hound">
<rect class="sh" x="3375.7" y="2004.1" width="324.4" height="146.9"/>
<rect class="bx" x="3366.7" y="1995.1" width="324.4" height="146.9"/>
<path class="sp" d="M3366.7,2031.8h324.4M3366.7,2045.9h324.4"/>
<text class="b m" x="3528.9" y="2020">Hound</text>
<text x="3374.7" y="2068">+Scan(Player, Enemy): void<tspan x="3374.7" dy="21.6">+pathCost(Integer[], Integer[]): int</tspan><tspan x="3374.7" dy="21.6">+findClosestHunt(Enemy, Map): Point</tspan></text>
</g>

<g id="Treasure">
<rect class="sh" x="3041.9" y="725.8" width="113.2" height="80.5"/>
<rect class="bx" x="3032.9" y="716.8" width="113.2" height="80.5"/>
<path class="sp" d="M3032.9,753h113.2M3032.9,766.7h113.2"/>
<text class="b m" x="3089.5" y="741.4">Treasure</text>
</g>

<g id="Arrow">
<rect class="sh" x="3571.6" y="680" width="246.2" height="103.7"/>
<rect class="bx" x="3562.6" y="671" width="246.2" height="103.7"/>
<path class="sp" d="M3562.6,707.3h246.2M3562.6,721.7h246.2"/>
<text class="b m" x="3685.7" y="695.7">Arrow</text>
<text x="3570.6" y="743.7">+shoot(Player): boolean<tspan x="3570.6" dy="21.6">+isHit(int, int, Map): boolean</tspan></text>
</g>

<g id="key">
<rect class="sh" x="3571.6" y="806.8" width="216" height="121.9"/>
<rect class="bx" x="3562.6" y="797.8" width="216" height="121.9"/>
<path class="sp" d="M3562.6,833.5h216M3562.6,866.6h216"/>
<text class="b m" x="3670.6" y="822.2">key</text>
<text x="3570.6" y="855.5">-color: Color</text>
<text x="3570.6" y="888.6">+useKey(Door): boolean<tspan x="3570.6" dy="21.6">+getColor(): Color</tspan></text>
</g>

<g id="HoverPotion">
<rect class="sh" x="3894.1" y="875.6" width="128" height="62.9"/>
<rect class="bx" x="3885.1" y="866.6" width="128" height="62.9"/>
<path class="sp" d="M3885.1,902.9h128M3885.1,916.6h128"/>
<text class="b m" x="3949.1" y="891.3">HoverPotion</text>
</g>

<g id="Potion">
<rect class="sh" x="3594.5" y="945" width="159.3" height="81.7"/>
<rect class="bx" x="3585.5" y="936" width="159.3" height="81.7"/>
<path class="sp" d="M3585.5,971.5h159.3M3585.5,986.4h159.3"/>
<text class="b m" x="3665.2" y="960.3">Potion</text>
<text x="3593.5" y="1008.4">+getPotionType()</text>
</g>

<g id="InvincibilityPotion">
<rect class="sh" x="3836.2" y="1002.4" width="210.6" height="122.4"/>
<rect class="bx" x="3827.2" y="993.4" width="210.6" height="122.4"/>
<path class="sp" d="M3827.2,1029.6h210.6M3827.2,1062.7h210.6"/>
<text class="b m" x="3932.5" y="1018">InvincibilityPotion</text>
<text x="3835.2" y="1051.6">-second: int</text>
<text x="3835.2" y="1084.7">+getSecond(): int<tspan x="3835.2" dy="21.6">+reduceTime(): boolean</tspan></text>
</g>

<g id="Sword">
<rect class="sh" x="3560" y="1048.5" width="224.6" height="143.6"/>
<rect class="bx" x="3551" y="1039.5" width="224.6" height="143.6"/>
<path class="sp" d="M3551,1075.2h224.6M3551,1108.1h224.6"/>
<text class="b m" x="3663.3" y="1063.9">Sword</text>
<text x="3559" y="1097.2">-durability: int</text>
<text x="3559" y="1130.1">+Swing(Enemy): Boolean<tspan x="3559" dy="21.6">+getDurability(): int</tspan><tspan x="3559" dy="21.6">+setDurability(int): void</tspan></text>
</g>

<g id="PickableItem">
<rect class="sh" x="2961.7" y="910.4" width="282.2" height="164.9"/>
<rect class="bx" x="2952.7" y="901.4" width="282.2" height="164.9"/>
<path class="sp" d="M2952.7,937.2h282.2M2952.7,991.4h282.2"/>
<text class="b m" x="3093.8" y="925.8">PickableItem</text>
<text x="2960.7" y="959.2">-capacity: int<tspan x="2960.7" dy="21.6">-type: PickableItemList</tspan></text>
<text x="2960.7" y="1013.4">+getCapacity(): int<tspan x="2960.7" dy="21.6">+getType(): PickableItemList</tspan><tspan x="2960.7" dy="21.6">+setType(PickableItemList): void</tspan></text>
</g>

<g id="Pit">
<rect class="sh" x="3260.2" y="1152.4" width="274.7" height="121.7"/>
<rect class="bx" x="3251.2" y="1143.4" width="274.7" height="121.7"/>
<path class="sp" d="M3251.2,1179.4h274.7M3251.2,1212.5h274.7"/>
<text class="b m" x="3388.6" y="1167.9">Pit</text>
<text x="3259.2" y="1201.4">-isDropable</text>
<text x="3259.2" y="1234.5">+isDroppable(): boolean<tspan x="3259.2" dy="21.6">+setIsDroppable(boolean): void</tspan></text>
</g>

<g id="Door">
<rect class="sh" x="3214.4" y="1325.2" width="234.7" height="186.7"/>
<rect class="bx" x="3205.4" y="1316.2" width="234.7" height="186.7"/>
<path class="sp" d="M3205.4,1351.8h234.7M3205.4,1406.7h234.7"/>
<text class="b m" x="3322.8" y="1340.5">Door</text>
<text x="3213.4" y="1373.8">-color: Color<tspan x="3213.4" dy="21.6">-isBlocked: boolean</tspan></text>
<text x="3213.4" y="1428.7">+closeDoor(): void<tspan x="3213.4" dy="21.6">+getColor(): Color</tspan><tspan x="3213.4" dy="21.6">+isBlocked(): boolean</tspan><tspan x="3213.4" dy="21.6">+keyFitness(Key): boolean</tspan></text>
</g>

<g id="connectors">
<path class="c d oa" d="M993.6,689.8L645.6,668.9"/>
<path class="c d oa" d="M1339.2,667.4L2007.2,540.7"/>
<path class="c d oa" d="M993.6,859.7L591.1,1213.9"/>
<path class="c d oa2" d="M475.2,997.6L475.2,1131.8"/>
<path class="c d oa" d="M275.4,1325.5L359.3,1325.5"/>
<path class="c d oa2" d="M359.5,1449.6L301.2,1508.9"/>
<path class="c d oa2" d="M477.4,1512.7L479.9,1627.6"/>
<path class="c oa2" d="M591.4,1365.8L682.6,1396.8"/>
<path class="c d oa2" d="M914.4,1446L1062.2,1448.2"/>
<path class="c oa2" d="M1180.8,1013L1184.4,1120.3"/>
<path class="c dh" d="M2433.6,353L2539,290L2928.2,324"/>
<path class="c dh" d="M2794,476L2928.2,418"/>
<path class="c dh" d="M2540.6,697.5L2262.2,1089.4"/>
<path class="c dh" d="M2982.2,698.4L2853.7,938.5"/>
<path class="c dh" d="M3400.2,315L3573.8,283.7"/>
<path class="c d tr" d="M3575.5,157.7L3651.6,210.2"/>
<path class="c d tr" d="M3781.4,157.7L3738.4,210.2"/>
<path class="c d tr" d="M3627.1,486.4L3675.4,318.2"/>
<path class="c d tr" d="M3787.9,486.4L3715.2,318.2"/>
<path class="c df" d="M2141.3,1074.7L2179.9,785.5"/>
<path class="c" d="M2014.6,785.5L1886.1,971"/>
<path class="c" d="M2314,785.5L2363.5,936.7"/>
<path class="c" d="M2442.2,1018.8L2583.8,1110.2"/>
<path class="c tr" d="M2262.5,1286.6L2583.8,1223.3"/>
<path class="c dh" d="M1949.5,1142L1898.3,1087"/>
<path class="c d tr" d="M1596.9,856L1759.4,970"/>
<path class="c d tr" d="M1624.3,978L1741.2,1003.7"/>
<path class="c d tr" d="M1624.3,1077.4L1741.2,1053.2"/>
<path class="c d tr" d="M1596.9,1201L1759.4,1087"/>
<path class="c df" d="M2026.1,1578.7L2012.4,1615.2"/>
<path class="c dh" d="M1955.3,1975.2L1952.4,2226"/>
<path class="c df" d="M2522.4,2036L2518.8,2111.8"/>
<path class="c tr" d="M2607.6,1569.3L2628,1498.7"/>
<path class="c tr" d="M2785,1546.3L2776.3,1498.7"/>
<path class="c tr" d="M2907.4,1408L2853.7,1362"/>
<path class="c tr" d="M3205.4,1368L2853.7,1246"/>
<path class="c tr" d="M3251.2,1202.4L2853.7,1200.6"/>
<path class="c tr" d="M2952.7,1065.3L2853.7,1120.3"/>
<path class="c tr" d="M2687.6,850L2690.9,901.3"/>
<path class="c tr" d="M3089.5,797.3L3092.4,901.4"/>
<path class="c tr" d="M3226.9,798.5L3153.5,901.4"/>
<path class="c tr" d="M3562.6,774.7L3235.7,919.7"/>
<path class="c tr" d="M3562.6,880.9L3235.7,950.9"/>
<path class="c tr" d="M3585.5,977.8L3235.7,982.1"/>
<path class="c tr" d="M3551,1085.8L3235.7,1015.2"/>
<path class="c tr" d="M3885.1,915.3L3746.2,954"/>
<path class="c tr" d="M3827.2,1023.3L3746.2,999.6"/>
<path class="c df" d="M2689.2,1784L2929,1760"/>
<path class="c d tr" d="M2901.2,1995.1L3058.3,1802.2"/>
<path class="c d tr" d="M3175.9,1995.1L3129.8,1802.2"/>
<path class="c d tr" d="M3433.9,1995.1L3197,1802.2"/>
<path class="c d tr" d="M3689.3,1870.6L3299.5,1780.9"/>
<text class="m" x="2450" y="330.5">1</text>
<text class="m" x="2894" y="314.5">1</text>
<text class="m" x="2818" y="457">1</text>
<text class="m" x="2891" y="429.5">1..*</text>
<text class="m" x="2536" y="738.5">1</text>
<text class="m" x="2294.6" y="1083.5">1</text>
<text class="m" x="2982.2" y="740.7">1</text>
<text class="m" x="2885" y="923">0..*</text>
<text class="m" x="1904.3" y="1128">1</text>
<text class="m" x="1913.7" y="1137.6">1</text>
<text class="m" x="2038.3" y="1595">1</text>
<text class="m" x="2035" y="1606.5">1</text>
<text class="m" x="1972.4" y="2013">1</text>
<text class="m" x="1969.1" y="2199">0..*</text>
<text class="m" x="2718" y="1770.5">1</text>
<text class="m" x="2894.4" y="1750.7">1</text>
</g>
</svg>
